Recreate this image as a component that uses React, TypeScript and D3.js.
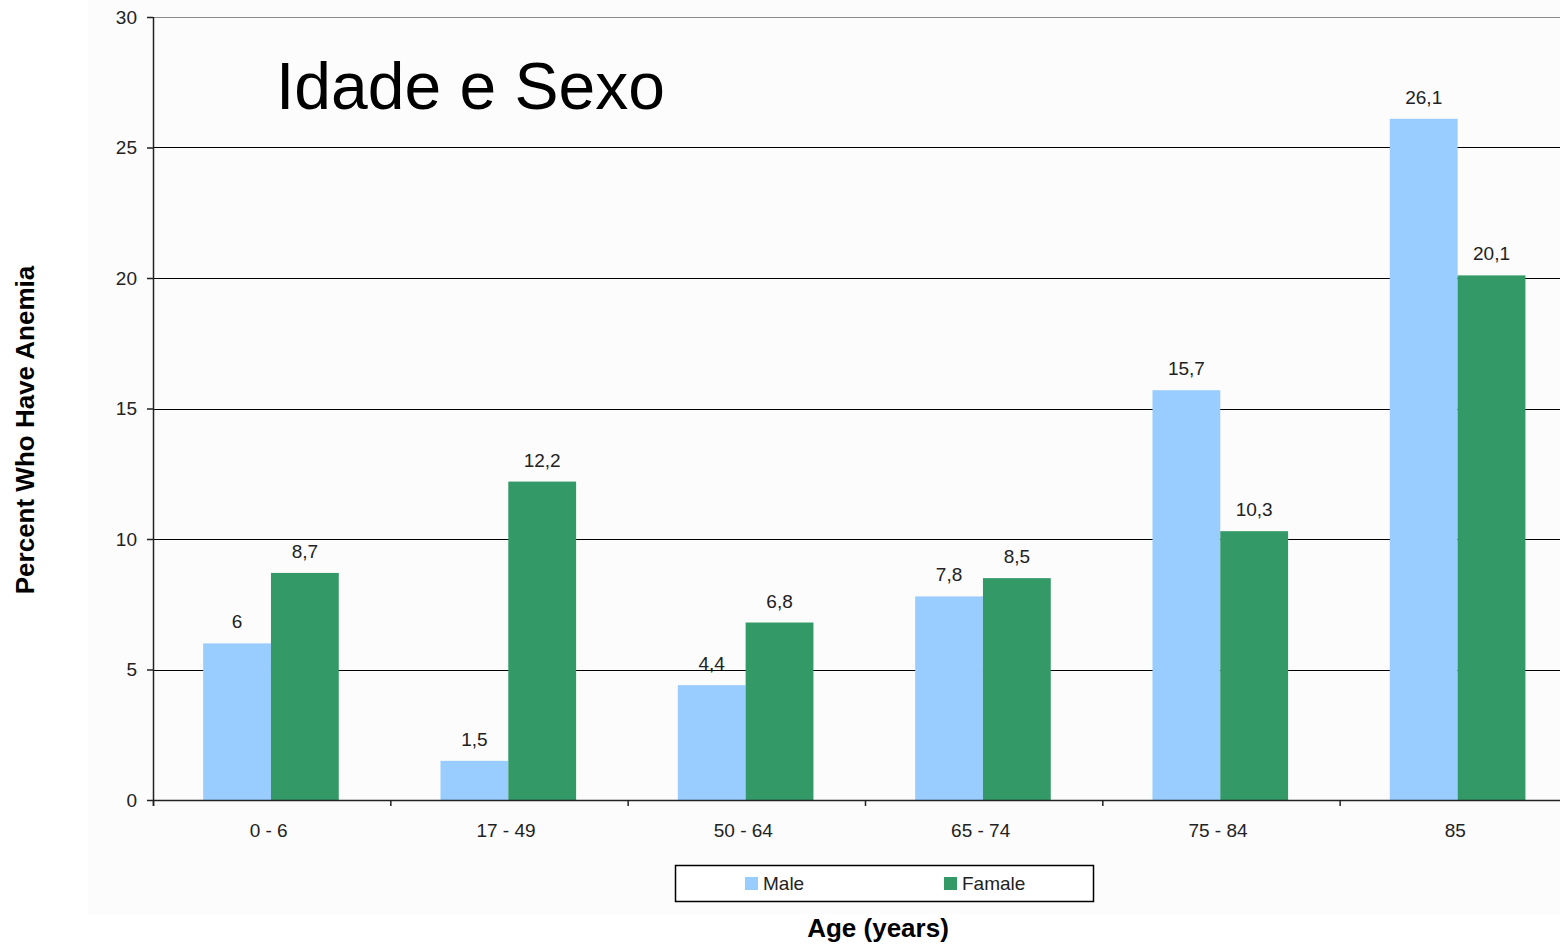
import React from "react";
import * as d3 from "d3";

// Anemia prevalence by age group and sex
const ageGroups = ["0 - 6", "17 - 49", "50 - 64", "65 - 74", "75 - 84", "85"];
const maleValues = [6, 1.5, 4.4, 7.8, 15.7, 26.1];
const femaleValues = [8.7, 12.2, 6.8, 8.5, 10.3, 20.1];
const seriesNames = ["Male", "Famale"];
const yTicks = [0, 5, 10, 15, 20, 25, 30];

const W = 1560;
const H = 944;
const plot = { left: 153, top: 17, bottom: 800, right: 153 + 6 * 237.33 };
const colors = ["#99ccff", "#339966"];
const tickFont = "'Liberation Sans', Arial, sans-serif";

const fmt = (v: number) => String(v).replace(".", ",");

export default function App() {
  const x = d3
    .scaleBand<string>()
    .domain(ageGroups)
    .range([plot.left, plot.right])
    .paddingInner(0)
    .paddingOuter(0);
  const y = d3.scaleLinear().domain([0, 30]).range([plot.bottom, plot.top]);
  const band = x.bandwidth();
  // Excel-style gap width of 150%
  const barW = band / 3.5;
  const sub = d3
    .scaleBand<number>()
    .domain([0, 1])
    .range([(band - 2 * barW) / 2 - 0.7, (band + 2 * barW) / 2 - 0.7]);

  const series = [maleValues, femaleValues];

  return (
    <svg
      width={W}
      height={H}
      style={{ position: "absolute", left: 0, top: 0, background: "#ffffff" }}
    >
      <rect x={88} y={0} width={W - 88} height={914} fill="#fcfcfc" />

      {/* gridlines */}
      {yTicks.map((t) => (
        <line
          key={"g" + t}
          x1={plot.left}
          x2={W}
          y1={Math.round(y(t)) + 0.5}
          y2={Math.round(y(t)) + 0.5}
          stroke={t === 30 ? "#8c8c8c" : "#000"}
          strokeWidth={1.2}
        />
      ))}

      {/* bars */}
      {ageGroups.map((g, i) => (
        <g key={g} transform={`translate(${x(g)},0)`}>
          {series.map((vals, s) => (
            <rect
              key={s}
              x={sub(s)}
              y={y(vals[i])}
              width={barW}
              height={plot.bottom - y(vals[i])}
              fill={colors[s]}
            />
          ))}
          {series.map((vals, s) => (
            <text
              key={"l" + s}
              x={(sub(s) as number) + barW / 2}
              y={y(vals[i]) - 15}
              textAnchor="middle"
              fontFamily={tickFont}
              fontSize={19}
              fill="#222"
            >
              {fmt(vals[i])}
            </text>
          ))}
        </g>
      ))}

      {/* y axis */}
      <line x1={plot.left + 0.5} x2={plot.left + 0.5} y1={plot.top} y2={plot.bottom + 6} stroke="#222" strokeWidth={1.5} />
      {yTicks.map((t) => (
        <g key={"yt" + t}>
          <line x1={plot.left - 6} x2={plot.left} y1={y(t) + 0.5} y2={y(t) + 0.5} stroke="#222" strokeWidth={1.5} />
          <text
            x={plot.left - 16}
            y={y(t)}
            dy="0.35em"
            textAnchor="end"
            fontFamily={tickFont}
            fontSize={19}
            fill="#222"
          >
            {t}
          </text>
        </g>
      ))}

      {/* x axis */}
      <line x1={plot.left} x2={W} y1={plot.bottom + 0.5} y2={plot.bottom + 0.5} stroke="#222" strokeWidth={1.5} />
      {d3.range(ageGroups.length + 1).map((k) => (
        <line
          key={"xt" + k}
          x1={plot.left + k * band + 0.5}
          x2={plot.left + k * band + 0.5}
          y1={plot.bottom}
          y2={plot.bottom + 6}
          stroke="#222"
          strokeWidth={1.5}
        />
      ))}
      {ageGroups.map((g) => (
        <text
          key={"xl" + g}
          x={(x(g) as number) + band / 2 - 3}
          y={837}
          textAnchor="middle"
          fontFamily={tickFont}
          fontSize={19}
          fill="#222"
        >
          {g}
        </text>
      ))}

      {/* title */}
      <text x={276} y={109} fontFamily="'Liberation Sans', Arial, sans-serif" fontSize={66} fill="#000">
        Idade e Sexo
      </text>

      {/* axis titles */}
      <text
        transform="translate(34,430) rotate(-90)"
        textAnchor="middle"
        fontFamily="'Liberation Sans', Arial, sans-serif"
        fontWeight="bold"
        fontSize={26}
        fill="#000"
      >
        Percent Who Have Anemia
      </text>
      <text
        x={878}
        y={937}
        textAnchor="middle"
        fontFamily="'Liberation Sans', Arial, sans-serif"
        fontWeight="bold"
        fontSize={26}
        fill="#000"
      >
        Age (years)
      </text>

      {/* legend */}
      <rect x={675.5} y={865.5} width={418} height={36} fill="#fff" stroke="#000" strokeWidth={1.5} />
      {seriesNames.map((n, s) => (
        <g key={n} transform={`translate(${s === 0 ? 745 : 944},877)`}>
          <rect x={0} y={0} width={13} height={13} fill={colors[s]} />
          <text x={18} y={13} fontFamily={tickFont} fontSize={19} fill="#222">
            {n}
          </text>
        </g>
      ))}
    </svg>
  );
}
